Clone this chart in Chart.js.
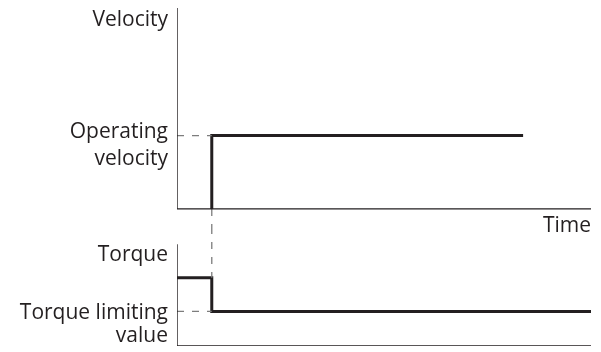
<!DOCTYPE html>
<html>
<head>
<meta charset="utf-8">
<script src="https://cdn.jsdelivr.net/npm/chart.js@4/dist/chart.umd.min.js"></script>
<style>
html,body{margin:0;padding:0;background:#fff;}
canvas{display:block;}
</style>
</head>
<body>
<canvas id="c" width="601" height="352"></canvas>
<script>
// ---- data (arbitrary units) ----
const timeMax = 100;
const velocityMax = 100;
const torqueMax = 100;
const velocityTimes = [8.4, 8.4, 83.6];
const velocityValues = [0, 36.5, 36.5];
const torqueTimes = [0, 8.4, 8.4, 100];
const torqueValues = [67, 67, 34, 34];
const stepTime = 8.4;
const operatingVelocity = 36.5;
const torqueHigh = 67;
const torqueLimit = 34;
const velocityRange = [-9, 100];
const torqueRange = [0, 117];
const velocityTitle = ['Velocity'];
const operatingLabel = ['Operating', 'velocity'];
const timeTitle = ['Time'];
const torqueTitle = ['Torque'];
const limitLabel = ['Torque limiting', 'value'];

const INK = '#231f20';
const DASH = '#7d7d7d';
const pts = (xs, ys) => xs.map((x, i) => ({x, y: ys[i]}));

const solid = (data, axis, w) => ({
  data, yAxisID: axis, borderColor: INK, borderWidth: w,
  pointRadius: 0, tension: 0, fill: false,
  borderCapStyle: 'butt', borderJoinStyle: 'miter'
});
const dashed = (data, axis) => ({
  data, yAxisID: axis, borderColor: DASH, borderWidth: 1.3,
  borderDash: [7, 8], pointRadius: 0, tension: 0, fill: false,
  borderCapStyle: 'butt'
});

const datasets = [
  // velocity panel axes
  solid(pts([0, 0, timeMax], [velocityMax, 0, 0]), 'yV', 1.4),
  // torque panel axes
  solid(pts([0, 0, timeMax], [torqueMax, 0, 0]), 'yT', 1.4),
  // dashed leaders
  dashed(pts([0, stepTime], [operatingVelocity, operatingVelocity]), 'yV'),
  dashed(pts([0, stepTime], [torqueLimit, torqueLimit]), 'yT'),
  dashed(pts([stepTime, stepTime], [0, velocityRange[0]]), 'yV'),
  dashed(pts([stepTime, stepTime], [torqueRange[1], torqueHigh]), 'yT'),
  // profiles
  solid(pts(velocityTimes, velocityValues), 'yV', 3),
  solid(pts(torqueTimes, torqueValues), 'yT', 3)
];

const labelPlugin = {
  id: 'labels',
  afterDraw(chart) {
    const ctx = chart.ctx;
    const {left, right} = chart.chartArea;
    const yV = chart.scales.yV, yT = chart.scales.yT;
    ctx.save();
    ctx.fillStyle = INK;
    ctx.font = '21px "Open Sans"';
    ctx.textAlign = 'right';
    ctx.textBaseline = 'alphabetic';
    const lx = left - 9;
    const draw = (lines, x, y, lh) => lines.forEach((t, i) => ctx.fillText(t, x, y + i * lh));
    draw(velocityTitle, lx, yV.getPixelForValue(velocityMax) + 18, 27);
    draw(operatingLabel, lx, yV.getPixelForValue(operatingVelocity) + 2.5, 27);
    draw(timeTitle, right, yV.getPixelForValue(0) + 23, 27);
    draw(torqueTitle, lx, yT.getPixelForValue(torqueMax) + 17, 27);
    draw(limitLabel, lx, yT.getPixelForValue(torqueLimit) + 8, 23);
    ctx.restore();
  }
};

new Chart(document.getElementById('c'), {
  type: 'line',
  data: {datasets},
  options: {
    responsive: false,
    devicePixelRatio: 1,
    animation: false,
    layout: {padding: {left: 177, right: 10, top: 8, bottom: 6}},
    plugins: {legend: {display: false}, tooltip: {enabled: false}},
    scales: {
      x: {type: 'linear', min: 0, max: timeMax, display: false},
      yT: {type: 'linear', position: 'left', stack: 'panels', stackWeight: 119,
           min: torqueRange[0], max: torqueRange[1], display: false},
      yV: {type: 'linear', position: 'left', stack: 'panels', stackWeight: 219,
           min: velocityRange[0], max: velocityRange[1], display: false}
    }
  },
  plugins: [labelPlugin]
});
</script>
</body>
</html>
